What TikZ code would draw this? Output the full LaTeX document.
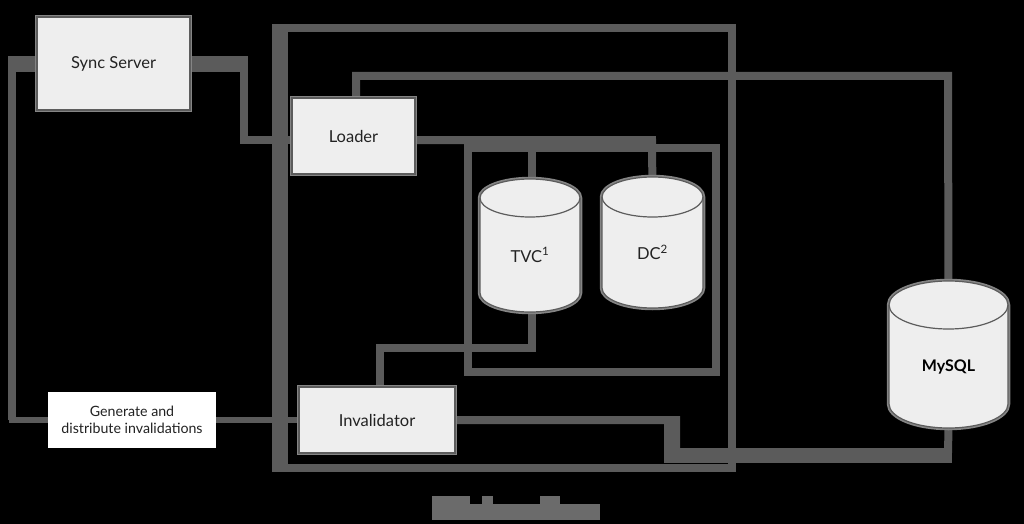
\documentclass[tikz,border=0pt]{standalone}
\usepackage{fontspec}
\setmainfont{Lato}
\definecolor{lc}{HTML}{5B5B5B}
\definecolor{boxfill}{HTML}{EEEEEE}
\definecolor{boxline}{HTML}{5C5C5C}
\definecolor{halo}{HTML}{858585}
\definecolor{txt}{HTML}{222222}
\definecolor{blockgray}{HTML}{6B6B6B}
\pgfdeclarelayer{bg}
\pgfdeclarelayer{lines}
\pgfsetlayers{bg,lines,main}
\begin{document}
\begin{tikzpicture}[x=1pt,y=-1pt,
  conn/.style={draw=lc, line width=8, line join=miter},
  thinconn/.style={draw=lc, line width=6.5, line join=miter},
  box/.style={rectangle, fill=boxfill, draw=boxline, line width=1.2,
    preaction={draw=halo, line width=4.5}, inner sep=0,
    text=txt, font=\fontsize{16.5}{19}\selectfont},
  plainbox/.style={rectangle, fill=white, draw=none, inner sep=0, align=center,
    text=txt, font=\fontsize{14.2}{17}\selectfont},
  cylnode/.style={rectangle, draw=none, inner sep=0, text=txt,
    font=\fontsize{16.5}{19}\selectfont},
  cyl/.style={fill=boxfill, draw=boxline, line width=1.2,
    preaction={draw=halo, line width=4.5}},
  cylarc/.style={draw=boxline, line width=1.2}
]
\useasboundingbox (0,0) rectangle (1024,524);
\begin{pgfonlayer}{bg}
  \fill[black] (0,0) rectangle (1024,524);
\end{pgfonlayer}

% boxes
\node[box, minimum width=153, minimum height=93] (SS) at (113.5,63.5) {Sync Server};
\node[box, minimum width=123, minimum height=76] (Loader) at (353.5,136) {Loader};
\node[box, minimum width=156, minimum height=66] (Inv) at (377,420) {Invalidator};
\node[plainbox, minimum width=168, minimum height=56] (Gen) at (132,420) {Generate and\\distribute invalidations};

% cylinders
\path[cyl] (480,198) -- (480,293) arc[start angle=180, end angle=0, x radius=50, y radius=19]
  -- (580,198) arc[start angle=0, end angle=-180, x radius=50, y radius=19] -- cycle;
\path[cylarc] (480,198) arc[start angle=180, end angle=0, x radius=50, y radius=19];
\node[cylnode, minimum width=100, minimum height=114] (TVC) at (530,255) {TVC\textsuperscript{1}};

\path[cyl] (602,197) -- (602,288) arc[start angle=180, end angle=0, x radius=50.5, y radius=20]
  -- (703,197) arc[start angle=0, end angle=-180, x radius=50.5, y radius=20] -- cycle;
\path[cylarc] (602,197) arc[start angle=180, end angle=0, x radius=50.5, y radius=20];
\node[cylnode, minimum width=101, minimum height=111] (DC) at (652.5,252.5) {DC\textsuperscript{2}};

\path[cyl] (889,305) -- (889,404) arc[start angle=180, end angle=0, x radius=59.5, y radius=24]
  -- (1008,305) arc[start angle=0, end angle=-180, x radius=59.5, y radius=24] -- cycle;
\path[cylarc] (889,305) arc[start angle=180, end angle=0, x radius=59.5, y radius=24];
\node[cylnode, minimum width=119, minimum height=123, text=black,
  font=\fontsize{16}{19}\selectfont\bfseries] (MySQL) at (948.5,366.5) {MySQL};

% helper coordinates for connector heights
\coordinate (c60) at (0,60);
\coordinate (c68) at (0,68);
\coordinate (c140) at (0,140);

\begin{pgfonlayer}{lines}
  % containers
  \draw[conn] (276,28) rectangle (732,468);
  \draw[conn] (284,28) -- (284,468);
  \draw[conn] (468,148) rectangle (716,372);
  % Sync Server -> Loader
  \draw[conn] (SS.east |- c60) -- (244,60) -- (244,140) -- (Loader.west |- c140);
  \draw[conn] (SS.east |- c68) -- (244,68);
  % Generate -> Sync Server
  \draw[thinconn] (Gen.west) -- (12,420) -- (12,60);
  \draw[conn] (12,420) -- (12,60) -- (SS.west |- c60);
  \draw[conn] (12,68) -- (SS.west |- c68);
  % Invalidator -> Generate
  \draw[thinconn] (Inv.west) -- (Gen.east);
  % Loader -> MySQL
  \draw[conn] ([xshift=2.5]Loader.north) -- (356,76) -- (948,76) -- (MySQL.north);
  % Loader -> TVC, DC
  \draw[conn] (Loader.east |- c140) -- (532,140) -- ([xshift=2]TVC.north);
  \draw[conn] (Loader.east |- c140) -- (652,140) -- (DC.north);
  % TVC -> Invalidator
  \draw[conn] ([xshift=2]TVC.south) -- (532,348) -- (380,348) -- ([xshift=3]Inv.north);
  % Invalidator -> MySQL
  \draw[conn] (Inv.east) -- (676,420) -- (676,452) -- (948,452) -- (MySQL.south);
  \draw[conn] (668,420) -- (668,459) -- (952,459);
\end{pgfonlayer}

% obscured caption block
\fill[blockgray] (432,504) rectangle (600,520);
\fill[blockgray] (432,496) rectangle (470,504);
\fill[blockgray] (482,496) rectangle (493,504);
\fill[blockgray] (540,496) rectangle (560,504);
\end{tikzpicture}
\end{document}
